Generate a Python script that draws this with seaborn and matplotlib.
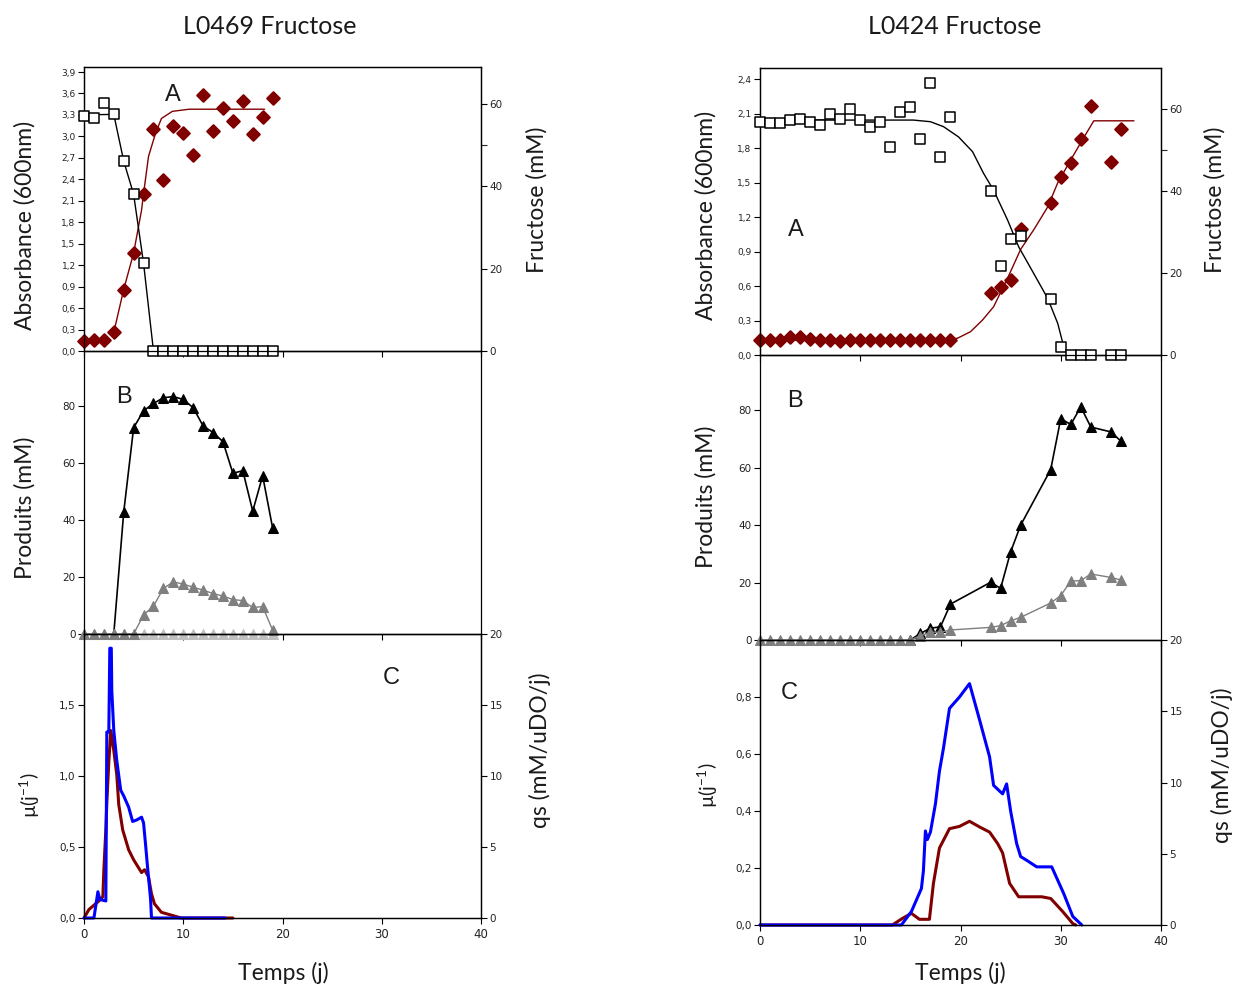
import matplotlib
matplotlib.use("Agg")
import matplotlib.pyplot as plt
import seaborn as sns
from matplotlib.ticker import FixedLocator, FuncFormatter, NullFormatter

sns.set_theme(style="white")
plt.rcParams['font.family'] = ['DejaVu Sans']
plt.rcParams['mathtext.default'] = 'regular'

# ---------------- data : L0469 (left) ----------------
tL = list(range(20))
absL = [0.14, 0.15, 0.15, 0.26, 0.85, 1.37, 2.20, 3.10, 2.39, 3.14,
        3.05, 2.74, 3.58, 3.07, 3.39, 3.22, 3.50, 3.04, 3.27, 3.54]
fruL = [57.0, 56.5, 60.1, 57.4, 46.1, 38.0, 21.3, 0, 0, 0,
        0, 0, 0, 0, 0, 0, 0, 0, 0, 0]
fitAbsL_t = [2.9, 4.0, 5.0, 5.8, 6.0, 6.5, 7.2, 7.8, 8.9, 10.6, 18.2]
fitAbsL_v = [0.20, 0.86, 1.37, 1.97, 2.20, 2.72, 3.04, 3.25, 3.35, 3.38, 3.38]
fitFruL_t = [0, 3, 4, 5, 6, 7, 19]
fitFruL_v = [57.3, 57.4, 46.1, 38.0, 21.3, 0, 0]

prodL_black = [0, 0, 0, 0, 42.7, 72.4, 78.3, 80.9, 82.9, 83.3,
               82.3, 79.4, 73.0, 70.7, 67.5, 56.4, 57.3, 43.1, 55.5, 37.3]
prodL_gray = [0, 0, 0, 0, 0, 0, 6.7, 9.8, 16.0, 18.3,
              17.5, 16.4, 15.4, 14.2, 13.3, 12.1, 11.7, 9.3, 9.6, 1.4]
prodL_light = [0] * 20

muL_t = [0, 0.5, 1.0, 1.5, 1.9, 2.0, 2.2, 2.3, 2.5, 2.7, 3.0, 3.3, 3.5, 3.9,
         4.5, 5.0, 5.8, 6.1, 6.5, 6.8, 7.1, 7.8, 8.8, 9.8, 15.0]
muL_v = [0, 0.06, 0.09, 0.12, 0.15, 0.34, 0.62, 0.81, 1.10, 1.32, 1.18, 1.01, 0.80, 0.62,
         0.48, 0.41, 0.32, 0.34, 0.29, 0.17, 0.10, 0.04, 0.02, 0.0, 0.0]
qsL_t = [0, 1.0, 1.4, 1.6, 2.2, 2.3, 2.5, 2.6, 2.75, 2.8, 3.0, 3.3, 3.7, 4.0,
         4.5, 4.9, 5.3, 5.8, 6.0, 6.2, 6.4, 6.7, 6.8, 14.2]
qsL_v = [0, 0, 1.85, 1.3, 1.2, 13.1, 13.1, 19.0, 19.0, 16.0, 13.2, 11.1, 9.0, 8.6,
         7.8, 6.8, 6.9, 7.1, 6.7, 5.2, 3.6, 1.4, 0, 0]

# ---------------- data : L0424 (right) ----------------
tR = list(range(20)) + [23, 24, 25, 26, 29, 30, 31, 32, 33, 35, 36]
fruR = [56.9, 56.7, 56.7, 57.3, 57.5, 56.8, 56.0, 58.8, 57.6, 59.9,
        57.3, 55.7, 56.8, 50.8, 59.3, 60.6, 52.6, 66.4, 48.2, 58.0,
        40.0, 21.7, 28.3, 29.0, 13.7, 2.0, 0, 0, 0, 0, 0]
absR = [0.13, 0.13, 0.13, 0.16, 0.16, 0.14, 0.13, 0.13, 0.12, 0.13,
        0.13, 0.13, 0.13, 0.13, 0.13, 0.13, 0.13, 0.13, 0.13, 0.13,
        0.54, 0.59, 0.65, 1.10, 1.32, 1.55, 1.67, 1.88, 2.17, 1.68, 1.97]
fitFruR_t = [0, 14, 15.3, 17, 18.3, 19.8, 21.2, 22.3, 23.3, 24.7, 25.8, 27.3, 28.7, 29.7, 30.3]
fitFruR_v = [57.3, 57.3, 57.3, 56.9, 55.7, 53.2, 49.6, 44.3, 40.2, 32.9, 26.4, 19.9, 13.8, 7.7, 2.0]
fitAbsR_t = [0, 18, 19.7, 21, 22.2, 23.3, 24.7, 26, 27.3, 28.7, 29.7, 31, 32.2, 33.3, 37.3]
fitAbsR_v = [0.13, 0.13, 0.146, 0.203, 0.305, 0.42, 0.67, 0.92, 1.09, 1.29, 1.50, 1.70, 1.88, 2.04, 2.04]

prodR_black_t = [15, 16, 17, 18, 19, 23, 24, 25, 26, 29, 30, 31, 32, 33, 35, 36]
prodR_black = [0, 2.3, 4.1, 4.6, 12.5, 20.1, 18.0, 30.7, 40.0, 59.4, 77.1, 75.1, 81.2, 74.2, 72.5, 69.3]
prodR_gray = [0] * 16 + [1.5, 2.7, 2.7, 3.5, 4.4, 5.0, 6.7, 7.9, 12.9, 15.5,
                         20.5, 20.7, 23.0, 21.8, 20.9]

muR_t = [0, 13.2, 14.2, 15.1, 15.9, 16.9, 17.3, 17.9, 18.9, 19.9, 20.9, 21.9, 22.9,
         23.7, 24.2, 24.9, 25.8, 28.1, 29.0, 30.2, 31.2, 31.5]
muR_v = [0, 0, 0.023, 0.041, 0.02, 0.02, 0.146, 0.27, 0.338, 0.346, 0.364, 0.344, 0.326,
         0.286, 0.253, 0.146, 0.099, 0.099, 0.093, 0.047, 0.005, 0]
qsR_t = [0, 14.1, 15.1, 16.1, 16.3, 16.5, 16.7, 17.0, 17.5, 17.9, 18.3, 18.9, 19.9, 20.9,
         21.9, 22.9, 23.3, 24.2, 24.6, 25.0, 25.6, 26.0, 26.6, 27.6, 29.1, 30.3, 31.2, 32.1]
qsR_v = [0, 0, 0.94, 2.56, 3.8, 6.6, 6.0, 6.52, 8.5, 10.8, 12.4, 15.2, 16.0, 16.94,
         14.4, 11.8, 9.8, 9.2, 9.9, 8.0, 5.72, 4.8, 4.54, 4.08, 4.08, 2.2, 0.6, 0]

x_ticks = [0, 10, 20, 30, 40]

# ---------------- figure ----------------
W, H = 1235, 988
fig = plt.figure(figsize=(W / 100, H / 100), dpi=100)
fig.patch.set_facecolor('white')

RED = '#800000'
BLUE = '#0000ff'
GRAY = '#7f7f7f'
LGRAY = '#c0c0c0'
TXT = '#1a1a1a'
LBLFONT = ['Lato', 'DejaVu Sans']


def add_ax(x0, x1, y0, y1):
    ax = fig.add_axes([x0 / W, 1 - y1 / H, (x1 - x0) / W, (y1 - y0) / H])
    ax.patch.set_visible(False)
    return ax


def style(ax):
    for s in ax.spines.values():
        s.set_visible(True)
        s.set_color('black')
        s.set_linewidth(0.9)
    ax.tick_params(direction='out', length=4, width=0.8, colors='black',
                   labelsize=7.5, pad=2, labelcolor='#222222')
    ax.grid(False)
    ax.set_xlabel('')
    ax.set_ylabel('')


comma1 = FuncFormatter(lambda v, p: f"{v:.1f}".replace('.', ','))
intfmt = FuncFormatter(lambda v, p: f"{v:.0f}")


def xsetup(ax, labels):
    ax.set_xlim(0, 40)
    ax.xaxis.set_major_locator(FixedLocator(x_ticks))
    if labels:
        ax.xaxis.set_major_formatter(intfmt)
        ax.tick_params(axis='x', labelsize=8.5, pad=3)
    else:
        ax.xaxis.set_major_formatter(NullFormatter())
    ax.tick_params(axis='x', bottom=True, top=False)


def panel_A(box, t, absv, fit_abs_t, fit_abs_v, fru, fit_fru_t, fit_fru_v,
            ymax_l, yticks_l, ymax_r):
    ax = add_ax(*box)
    style(ax)
    sns.lineplot(x=fit_abs_t, y=fit_abs_v, ax=ax, color=RED, lw=1.0,
                 estimator=None, sort=False)
    sns.scatterplot(x=t, y=absv, ax=ax, marker='D', s=40, color=RED,
                    edgecolor=RED, linewidth=1.6, clip_on=False, zorder=3)
    ax.set_ylim(0, ymax_l)
    ax.yaxis.set_major_locator(FixedLocator(yticks_l))
    ax.yaxis.set_major_formatter(comma1)
    ax.tick_params(axis='y', labelsize=6.5, left=True, right=False)
    xsetup(ax, False)
    ax2 = ax.twinx()
    ax2.patch.set_visible(False)
    style(ax2)
    sns.lineplot(x=fit_fru_t, y=fit_fru_v, ax=ax2, color='black', lw=1.0,
                 estimator=None, sort=False)
    sns.scatterplot(x=t, y=fru, ax=ax2, marker='s', s=52, color='white',
                    edgecolor='black', linewidth=1.1, clip_on=False, zorder=3)
    ax2.set_ylim(0, ymax_r)
    ax2.yaxis.set_major_locator(FixedLocator([0, 20, 40, 60]))
    ax2.yaxis.set_minor_locator(FixedLocator([50]))
    ax2.yaxis.set_major_formatter(intfmt)
    ax2.tick_params(axis='y', which='both', direction='out', length=4, width=0.8,
                    right=True, left=False, labelsize=7.5)
    ax2.set_xlim(0, 40)
    ax2.set_xlabel('')
    ax2.set_ylabel('')
    return ax, ax2


def panel_B(box, series):
    ax = add_ax(*box)
    style(ax)
    for tt, vv, col, lw in series:
        sns.lineplot(x=tt, y=vv, ax=ax, color=col, lw=lw, marker='^',
                     markersize=7.5, markeredgecolor=col, markerfacecolor=col,
                     estimator=None, sort=False, clip_on=False)
    ax.set_ylim(0, 99.3)
    ax.yaxis.set_major_locator(FixedLocator([0, 20, 40, 60, 80]))
    ax.yaxis.set_major_formatter(intfmt)
    ax.tick_params(axis='y', left=True, right=False, labelsize=7.5)
    xsetup(ax, False)
    return ax


def panel_C(box, mu_t, mu_v, qs_t, qs_v, ymax_l, yticks_l, ymax_r):
    ax = add_ax(*box)
    style(ax)
    sns.lineplot(x=mu_t, y=mu_v, ax=ax, color=RED, lw=2.2,
                 estimator=None, sort=False, clip_on=False)
    ax.set_ylim(0, ymax_l)
    ax.yaxis.set_major_locator(FixedLocator(yticks_l))
    ax.yaxis.set_major_formatter(comma1)
    ax.tick_params(axis='y', left=True, right=False, labelsize=7.5)
    xsetup(ax, True)
    ax2 = ax.twinx()
    ax2.patch.set_visible(False)
    style(ax2)
    sns.lineplot(x=qs_t, y=qs_v, ax=ax2, color=BLUE, lw=2.2,
                 estimator=None, sort=False, clip_on=False)
    ax2.set_ylim(0, ymax_r)
    ax2.yaxis.set_major_locator(FixedLocator([0, 5, 10, 15, 20]))
    ax2.yaxis.set_major_formatter(intfmt)
    ax2.tick_params(axis='y', right=True, left=False, labelsize=7.5)
    ax2.set_xlim(0, 40)
    ax2.set_xlabel('')
    ax2.set_ylabel('')
    return ax, ax2


# ---- left column ----
panel_A((84, 481, 67, 351), tL, absL, fitAbsL_t, fitAbsL_v, fruL, fitFruL_t, fitFruL_v,
        3.97, [0, 0.3, 0.6, 0.9, 1.2, 1.5, 1.8, 2.1, 2.4, 2.7, 3.0, 3.3, 3.6, 3.9], 68.9)
panel_B((84, 481, 351, 634), [(list(range(3, 20)), prodL_black[3:], 'black', 1.2),
                              (tL, prodL_light, LGRAY, 1.0),
                              (tL, prodL_gray, GRAY, 1.0)])
panel_C((84, 481, 634, 918), muL_t, muL_v, qsL_t, qsL_v, 2.0, [0, 0.5, 1.0, 1.5], 20)

# ---- right column ----
panel_A((760, 1161, 68, 355), tR, absR, fitAbsR_t, fitAbsR_v, fruR, fitFruR_t, fitFruR_v,
        2.5, [0, 0.3, 0.6, 0.9, 1.2, 1.5, 1.8, 2.1, 2.4], 70)
panel_B((760, 1161, 355, 640), [(prodR_black_t, prodR_black, 'black', 1.2),
                                (tR, prodR_gray, GRAY, 1.0)])
panel_C((760, 1161, 640, 925), muR_t, muR_v, qsR_t, qsR_v, 1.0, [0, 0.2, 0.4, 0.6, 0.8], 20)


# ---------------- texts ----------------
def ftext(x, y, s, size=15, rot=0, family=LBLFONT, color=TXT):
    fig.text(x / W, 1 - y / H, s, ha='center', va='center', rotation=rot,
             fontsize=size, family=family, color=color)


ftext(270, 27, 'L0469 Fructose', 18)
ftext(955, 27, 'L0424 Fructose', 18)

ftext(25, 225, 'Absorbance (600nm)', 16.5, 90)
ftext(25, 508, 'Produits (mM)', 16.5, 90)
ftext(30, 795, 'µ(j$^{-1}$)', 14, 90)
ftext(537, 200, 'Fructose (mM)', 16.5, 90)
ftext(540, 750, 'qs (mM/uDO/j)', 16.5, 90)
ftext(283, 973, 'Temps (j)', 16.5)

ftext(706, 215, 'Absorbance (600nm)', 16.5, 90)
ftext(706, 497, 'Produits (mM)', 16.5, 90)
ftext(708, 785, 'µ(j$^{-1}$)', 14, 90)
ftext(1215, 200, 'Fructose (mM)', 16.5, 90)
ftext(1222, 765, 'qs (mM/uDO/j)', 16.5, 90)
ftext(960, 973, 'Temps (j)', 16.5)

LET = ['Liberation Sans', 'DejaVu Sans']
ftext(173, 95, 'A', 17, family=LET)
ftext(124, 397, 'B', 17, family=LET)
ftext(391, 678, 'C', 17, family=LET)
ftext(796, 230, 'A', 17, family=LET)
ftext(795, 401, 'B', 17, family=LET)
ftext(789, 693, 'C', 17, family=LET)

fig.savefig('out.png', dpi=100, facecolor='white')
